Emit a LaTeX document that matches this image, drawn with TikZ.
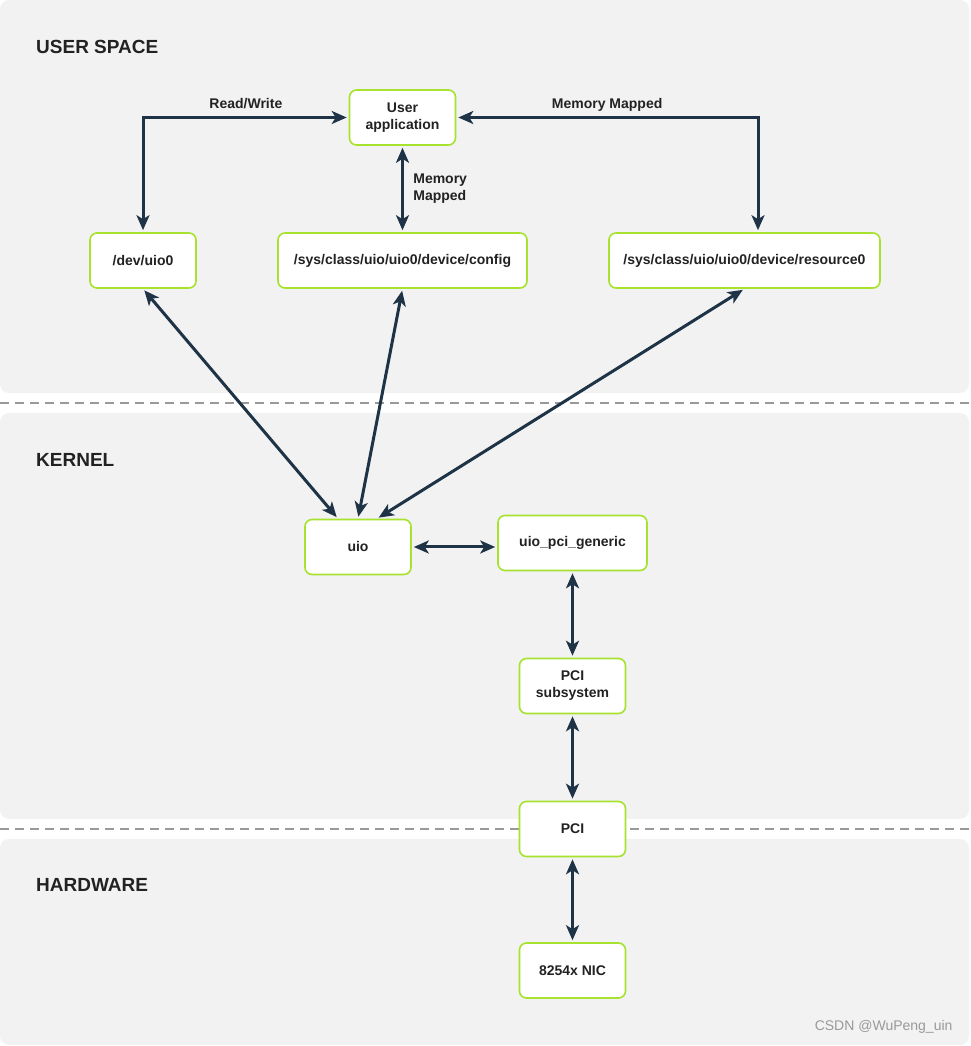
\documentclass[tikz,border=0pt]{standalone}
\usepackage{fontspec}
\setmainfont{Liberation Sans}
\usetikzlibrary{arrows.meta,positioning}
\definecolor{panelgray}{HTML}{F2F2F2}
\definecolor{linkblue}{HTML}{1F3346}
\definecolor{boxgreen}{HTML}{A6E22E}
\definecolor{txtdark}{HTML}{222222}

\begin{document}
\begin{tikzpicture}[x=1pt,y=1pt,>={Stealth[length=15pt,width=13pt,inset=4pt]},
                    node distance=143pt,
                    font=\bfseries\fontsize{14}{17}\selectfont]
  \tikzstyle{box}=[rectangle,rounded corners=7pt,draw=boxgreen,line width=1.6pt,
                   fill=white,text=txtdark,align=center,minimum width=106pt,minimum height=55pt]
  \tikzstyle{link}=[<->,draw=linkblue,line width=3pt,shorten >=2pt,shorten <=2pt]
  \tikzstyle{layer}=[fill=panelgray,rounded corners=9pt]
  \tikzstyle{split}=[draw=gray!80,line width=1.6pt,dash pattern=on 9pt off 6pt]
  \tikzstyle{title}=[anchor=west,inner sep=0pt,text=txtdark,font=\bfseries\fontsize{19}{22}\selectfont]
  \tikzstyle{lbl}=[text=txtdark,align=left]

  \useasboundingbox (0,0) rectangle (970,1046);

  % layers
  \fill[layer] (0,653) rectangle (969,1046);
  \fill[layer] (0,227) rectangle (969,633);
  \fill[layer] (0,1) rectangle (969,207);
  \draw[split] (0,643) -- (970,643);
  \draw[split] (0,217) -- (970,217);

  \node[title] (usr) at (36,999) {USER SPACE};
  \node[title] (krn) at (36,586) {KERNEL};
  \node[title] (hw)  at (36,161) {HARDWARE};

  % user space
  \node[box] (dev)  at (143,785.5)   {/dev/uio0};
  \node[box,minimum width=249pt] (cfg) at (402.5,785.5) {/sys/class/uio/uio0/device/config};
  \node[box,minimum width=271pt] (res) at (744.5,785.5) {/sys/class/uio/uio0/device/resource0};
  \node[box] (app)  [above of=cfg]  {User\\application};

  % kernel
  \node[box] (uio)  at (358,499)     {uio};
  \node[box,minimum width=149pt] (gen) at (572.5,503) {uio\_pci\_generic};
  \node[box] (sub)  [below of=gen]  {PCI\\subsystem};
  \node[box] (pci)  [below of=sub]  {PCI};

  % hardware
  \node[box] (nic)  [below of=pci,node distance=141.5pt] {8254x NIC};

  \node[anchor=east,text=gray!80,font=\fontsize{14}{16}\selectfont] (mark) at (956,19) {CSDN @WuPeng\_uin};

  \draw[link] (app.west) -| (dev.north) node[pos=0.25,above=4pt,text depth=0pt,lbl] {Read/Write};
  \draw[link] (app.east) -| ([xshift=13.5pt]res.north) node[pos=0.25,above=4pt,text depth=0pt,lbl] {Memory Mapped};
  \draw[link] (app) -- (cfg) node[midway,right=6pt,lbl] {Memory\\Mapped};

  \path (dev.south) edge[link] ([xshift=-20pt]uio.north)
        (cfg.south) edge[link] (uio.north)
        (res.south) edge[link] ([xshift=19pt]uio.north)
        (uio.east)  edge[link] (uio.east -| gen.west)
        (gen)       edge[link] (sub)
        (sub)       edge[link] (pci)
        (pci)       edge[link] (nic);
\end{tikzpicture}
\end{document}
